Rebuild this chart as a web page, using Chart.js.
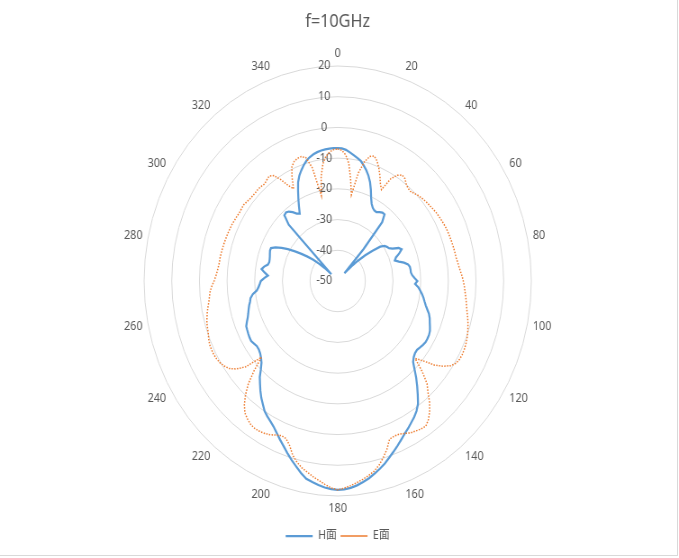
<!DOCTYPE html>
<html>
<head>
<meta charset="utf-8">
<title>f=10GHz</title>
<script src="https://cdn.jsdelivr.net/npm/chart.js@4.4.1/dist/chart.umd.min.js"></script>
<style>
  html, body { margin: 0; padding: 0; background: #fff; overflow: hidden; }
  /* the reference picture is squeezed horizontally, so the round plot is drawn wider and squeezed back */
  #patternChart { display: block; transform: scaleX(0.9005); transform-origin: 0 0; }
  /* chart frame, only its right and bottom edges are in the picture */
  #frame { position: absolute; left: 0; top: 0; width: 677px; height: 555px;
           border-right: 1px solid #d9d9d9; border-bottom: 1px solid #d9d9d9; pointer-events: none; }
</style>
</head>
<body>
<canvas id="patternChart" width="754" height="558"></canvas>
<div id="frame"></div>
<script>
  // angle in degrees, one category every 2 degrees
  const angles = [
    0, 2, 4, 6, 8, 10, 12, 14, 16, 18,
    20, 22, 24, 26, 28, 30, 32, 34, 36, 38,
    40, 42, 44, 46, 48, 50, 52, 54, 56, 58,
    60, 62, 64, 66, 68, 70, 72, 74, 76, 78,
    80, 82, 84, 86, 88, 90, 92, 94, 96, 98,
    100, 102, 104, 106, 108, 110, 112, 114, 116, 118,
    120, 122, 124, 126, 128, 130, 132, 134, 136, 138,
    140, 142, 144, 146, 148, 150, 152, 154, 156, 158,
    160, 162, 164, 166, 168, 170, 172, 174, 176, 178,
    180, 182, 184, 186, 188, 190, 192, 194, 196, 198,
    200, 202, 204, 206, 208, 210, 212, 214, 216, 218,
    220, 222, 224, 226, 228, 230, 232, 234, 236, 238,
    240, 242, 244, 246, 248, 250, 252, 254, 256, 258,
    260, 262, 264, 266, 268, 270, 272, 274, 276, 278,
    280, 282, 284, 286, 288, 290, 292, 294, 296, 298,
    300, 302, 304, 306, 308, 310, 312, 314, 316, 318,
    320, 322, 324, 326, 328, 330, 332, 334, 336, 338,
    340, 342, 344, 346, 348, 350, 352, 354, 356, 358
  ];

  // H面 (dB)
  const hPlane = [
    -6.7, -6.8, -7.2, -7.9, -8.6, -9.3, -10.0, -11.2, -12.5, -14.0,
    -15.8, -18.0, -20.3, -22.0, -23.0, -23.5, -23.6, -23.0, -22.5, -22.5,
    -25.0, -36.0, -46.5, -43.0, -40.0, -37.0, -34.0, -31.0, -29.6, -29.0,
    -28.6, -27.6, -25.5, -24.7, -26.0, -27.6, -28.3, -27.0, -25.3, -24.0,
    -23.5, -23.4, -23.4, -23.0, -22.2, -21.2, -22.0, -20.8, -20.0, -19.2,
    -18.5, -17.9, -17.2, -16.3, -15.3, -14.6, -14.1, -13.5, -12.9, -12.6,
    -12.5, -12.5, -12.8, -13.2, -13.6, -13.5, -13.0, -12.1, -10.0, -7.6,
    -5.3, -3.0, -0.6, 1.0, 2.2, 3.2, 4.3, 5.3, 6.5, 7.8,
    9.1, 10.4, 11.8, 13.0, 14.1, 15.2, 16.1, 16.9, 17.5, 17.9,
    18.0, 17.8, 17.4, 16.8, 16.1, 15.4, 13.9, 12.2, 10.6, 8.9,
    7.2, 5.7, 4.2, 2.8, 1.8, 0.9, -0.1, -1.6, -3.0, -4.6,
    -6.3, -7.9, -10.0, -11.7, -12.7, -13.4, -13.8, -13.9, -13.5, -13.1,
    -13.2, -13.4, -13.6, -13.8, -14.6, -15.4, -16.0, -16.5, -17.0, -17.6,
    -18.0, -19.0, -20.6, -21.3, -21.8, -22.2, -23.4, -24.7, -23.4, -22.2,
    -23.0, -24.2, -24.5, -24.4, -24.2, -23.9, -23.6, -23.6, -25.0, -27.0,
    -29.2, -31.8, -34.2, -36.5, -38.8, -41.3, -43.8, -46.8, -24.5, -21.2,
    -20.9, -21.3, -22.3, -23.5, -24.1, -22.0, -19.7, -17.3, -14.8, -13.0,
    -11.6, -10.3, -9.2, -8.4, -7.8, -7.4, -7.1, -6.9, -6.8, -6.7
  ];

  // E面 (dB)
  const ePlane = [
    -7.0, -7.4, -8.8, -11.5, -16.5, -21.5, -14.0, -10.0, -7.8, -7.2,
    -8.4, -10.3, -12.5, -14.8, -16.3, -11.5, -9.4, -8.4, -8.7, -9.8,
    -10.5, -10.7, -10.3, -9.8, -9.4, -9.1, -8.8, -8.6, -8.3, -8.0,
    -7.8, -7.6, -7.4, -7.2, -7.1, -7.0, -6.9, -6.8, -6.7, -6.6,
    -6.5, -6.2, -5.9, -5.5, -5.0, -4.6, -4.2, -3.9, -3.5, -3.1,
    -2.7, -2.2, -1.6, -1.0, -0.5, 0.0, 0.4, 0.7, 0.9, 1.0,
    0.9, 0.5, -0.7, -2.8, -5.5, -9.5, -12.3, -7.5, -3.5, -1.2,
    1.7, 4.0, 5.8, 7.0, 6.8, 6.4, 6.0, 5.2, 4.6, 4.5,
    4.8, 7.6, 9.8, 11.8, 13.3, 14.3, 15.2, 16.0, 16.8, 17.5,
    18.0, 17.4, 16.4, 15.3, 14.3, 13.2, 12.2, 10.8, 9.0, 6.3,
    4.6, 4.3, 4.9, 5.7, 6.2, 6.5, 6.6, 6.3, 5.5, 4.5,
    2.5, -0.2, -3.5, -8.0, -12.9, -6.5, -3.5, -1.5, -0.5, 0.2,
    0.6, 0.8, 0.8, 0.7, 0.3, -0.2, -0.5, -0.8, -1.3, -1.8,
    -2.4, -3.0, -3.4, -3.8, -4.5, -5.3, -5.9, -6.3, -6.6, -6.8,
    -6.8, -6.9, -7.0, -7.1, -7.2, -7.3, -7.4, -7.5, -7.6, -7.8,
    -7.9, -8.1, -8.0, -7.9, -8.2, -8.5, -8.6, -8.6, -8.5, -8.6,
    -8.8, -8.3, -7.8, -8.6, -11.0, -14.0, -16.0, -12.3, -9.3, -8.0,
    -7.5, -7.4, -8.2, -12.0, -21.6, -15.5, -11.5, -9.2, -7.9, -7.2
  ];

  // angles that get a label round the edge
  const angleTicks = [0, 20, 40, 60, 80, 100, 120, 140, 160, 180,
                      200, 220, 240, 260, 280, 300, 320, 340];

  // value axis
  const rMin = -50;
  const rMax = 20;
  const rStep = 10;

  Chart.defaults.font.family = "'Noto Sans', 'Noto Sans CJK SC', sans-serif";
  Chart.defaults.color = '#595959';

  const patternData = {
    labels: angles,
    datasets: [{
      label: 'H面',
      data: hPlane,
      borderColor: '#5B9BD5',
      backgroundColor: '#5B9BD5',
      borderWidth: 2.25,
      pointRadius: 0,
      pointHoverRadius: 0,
      fill: false,
      tension: 0,
      order: 1
    }, {
      label: 'E面',
      data: ePlane,
      borderColor: '#ED7D31',
      backgroundColor: '#ED7D31',
      borderWidth: 1.5,
      borderDash: [1.5, 1.5],
      pointRadius: 0,
      pointHoverRadius: 0,
      fill: false,
      tension: 0,
      order: 0
    }]
  };

  const patternConfig = {
    type: 'radar',
    data: patternData,
    options: {
      responsive: false,
      animation: false,
      layout: { padding: { top: 0, right: 4, bottom: 6, left: 0 } },
      plugins: {
        title: {
          display: true,
          text: 'f=10GHz',
          color: '#595959',
          font: { size: 18, weight: 'normal' },
          padding: { top: 11, bottom: 15 }
        },
        legend: {
          position: 'bottom',
          // empty title only adds a little room above the items
          title: { display: true, text: '', padding: 0, font: { size: 8 } },
          labels: {
            usePointStyle: true,
            pointStyle: 'line',
            pointStyleWidth: 30,
            padding: 4,
            color: '#595959',
            font: { size: 12 },
            sort: (a, b) => a.datasetIndex - b.datasetIndex
          }
        },
        tooltip: { enabled: false }
      },
      scales: {
        r: {
          min: rMin,
          max: rMax,
          ticks: {
            stepSize: rStep,
            showLabelBackdrop: false,
            // no backdrop is drawn; this keeps the angle labels close to the outer ring
            backdropPadding: -6,
            color: '#595959',
            font: { size: 12 },
            // pushes the value labels to the left of the vertical axis
            callback: (v) => v + '\u2003\u2003\u2002'
          },
          grid: { circular: true, color: '#d9d9d9', lineWidth: 1 },
          angleLines: { display: false },
          pointLabels: {
            padding: 5,
            color: '#595959',
            font: { size: 12 },
            callback: (label) => angleTicks.includes(Number(label)) ? String(label) : ''
          }
        }
      }
    }
  };

  const patternChart = new Chart(
    document.getElementById('patternChart'),
    patternConfig
  );
</script>
</body>
</html>
